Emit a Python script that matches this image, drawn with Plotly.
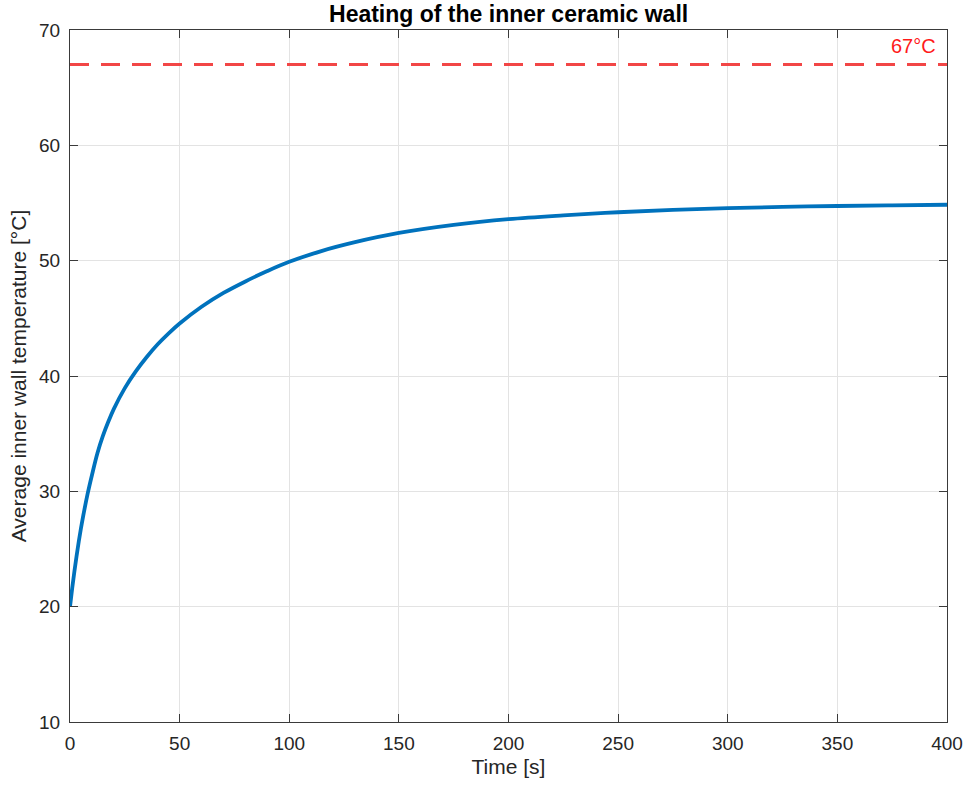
import plotly.graph_objects as go

# Average inner wall temperature over time
time_s = [0, 1, 2, 3, 4, 5, 6, 8, 10, 12.5, 15, 17.5, 20, 25, 30, 35, 40, 45,
          50, 60, 70, 80, 90, 100, 115, 130, 150, 175, 200, 225, 250, 275, 300,
          325, 350, 375, 400]
temp_c = [20.0, 21.6, 23.05, 24.4, 25.65, 26.8, 27.85, 29.75, 31.4, 33.3, 34.8,
          36.05, 37.15, 38.95, 40.4, 41.65, 42.75, 43.7, 44.55, 46.0, 47.2, 48.2,
          49.1, 49.9, 50.85, 51.6, 52.4, 53.1, 53.6, 53.93, 54.2, 54.4, 54.55,
          54.66, 54.74, 54.8, 54.85]

limit_temp = 67
limit_label = "67°C"
x_ticks = [0, 50, 100, 150, 200, 250, 300, 350, 400]
y_ticks = [10, 20, 30, 40, 50, 60, 70]

FONT = "Liberation Sans, Arial, Helvetica, sans-serif"
AXIS_COLOR = "#3a3a3a"
GRID_COLOR = "#e3e3e3"
TEXT_COLOR = "#262626"

fig = go.Figure()

fig.add_trace(go.Scatter(
    x=[0, 400], y=[limit_temp, limit_temp], mode="lines",
    line=dict(color="#f24646", width=3, dash="19px,12px"),
    hoverinfo="skip", showlegend=False,
))

fig.add_trace(go.Scatter(
    x=time_s, y=temp_c, mode="lines",
    line=dict(color="#0072BD", width=3.8, shape="spline", smoothing=1.0),
    showlegend=False,
))

fig.add_annotation(
    x=400, y=limit_temp, xref="x", yref="y",
    text=limit_label, showarrow=False,
    xanchor="right", yanchor="bottom", xshift=-9, yshift=6,
    font=dict(family=FONT, size=20, color="#ff1a1a"),
)

axis_common = dict(
    showline=True, linecolor=AXIS_COLOR, linewidth=1, mirror="ticks",
    ticks="inside", ticklen=8, tickwidth=1, tickcolor=AXIS_COLOR,
    showgrid=True, gridcolor=GRID_COLOR, gridwidth=1,
    zeroline=False, automargin=False,
    tickfont=dict(family=FONT, size=19, color=TEXT_COLOR),
)

fig.update_xaxes(
    range=[0, 400], tickvals=x_ticks, ticklabelstandoff=4,
    title=dict(text="Time [s]", font=dict(family=FONT, size=21, color=TEXT_COLOR),
               standoff=6),
    **axis_common,
)
fig.update_yaxes(
    range=[10, 70], tickvals=y_ticks, ticklabelstandoff=5,
    title=dict(text="Average inner wall temperature [°C]",
               font=dict(family=FONT, size=21, color=TEXT_COLOR), standoff=6),
    **axis_common,
)

fig.update_layout(
    width=966, height=787,
    margin=dict(l=70, r=19, t=30, b=65),
    paper_bgcolor="white", plot_bgcolor="white",
    title=dict(text="<b>Heating of the inner ceramic wall</b>",
               x=0.5265, xanchor="center", y=1 - 14 / 787, yanchor="middle",
               font=dict(family=FONT, size=23, color="black")),
)

fig.write_html("out.html")
